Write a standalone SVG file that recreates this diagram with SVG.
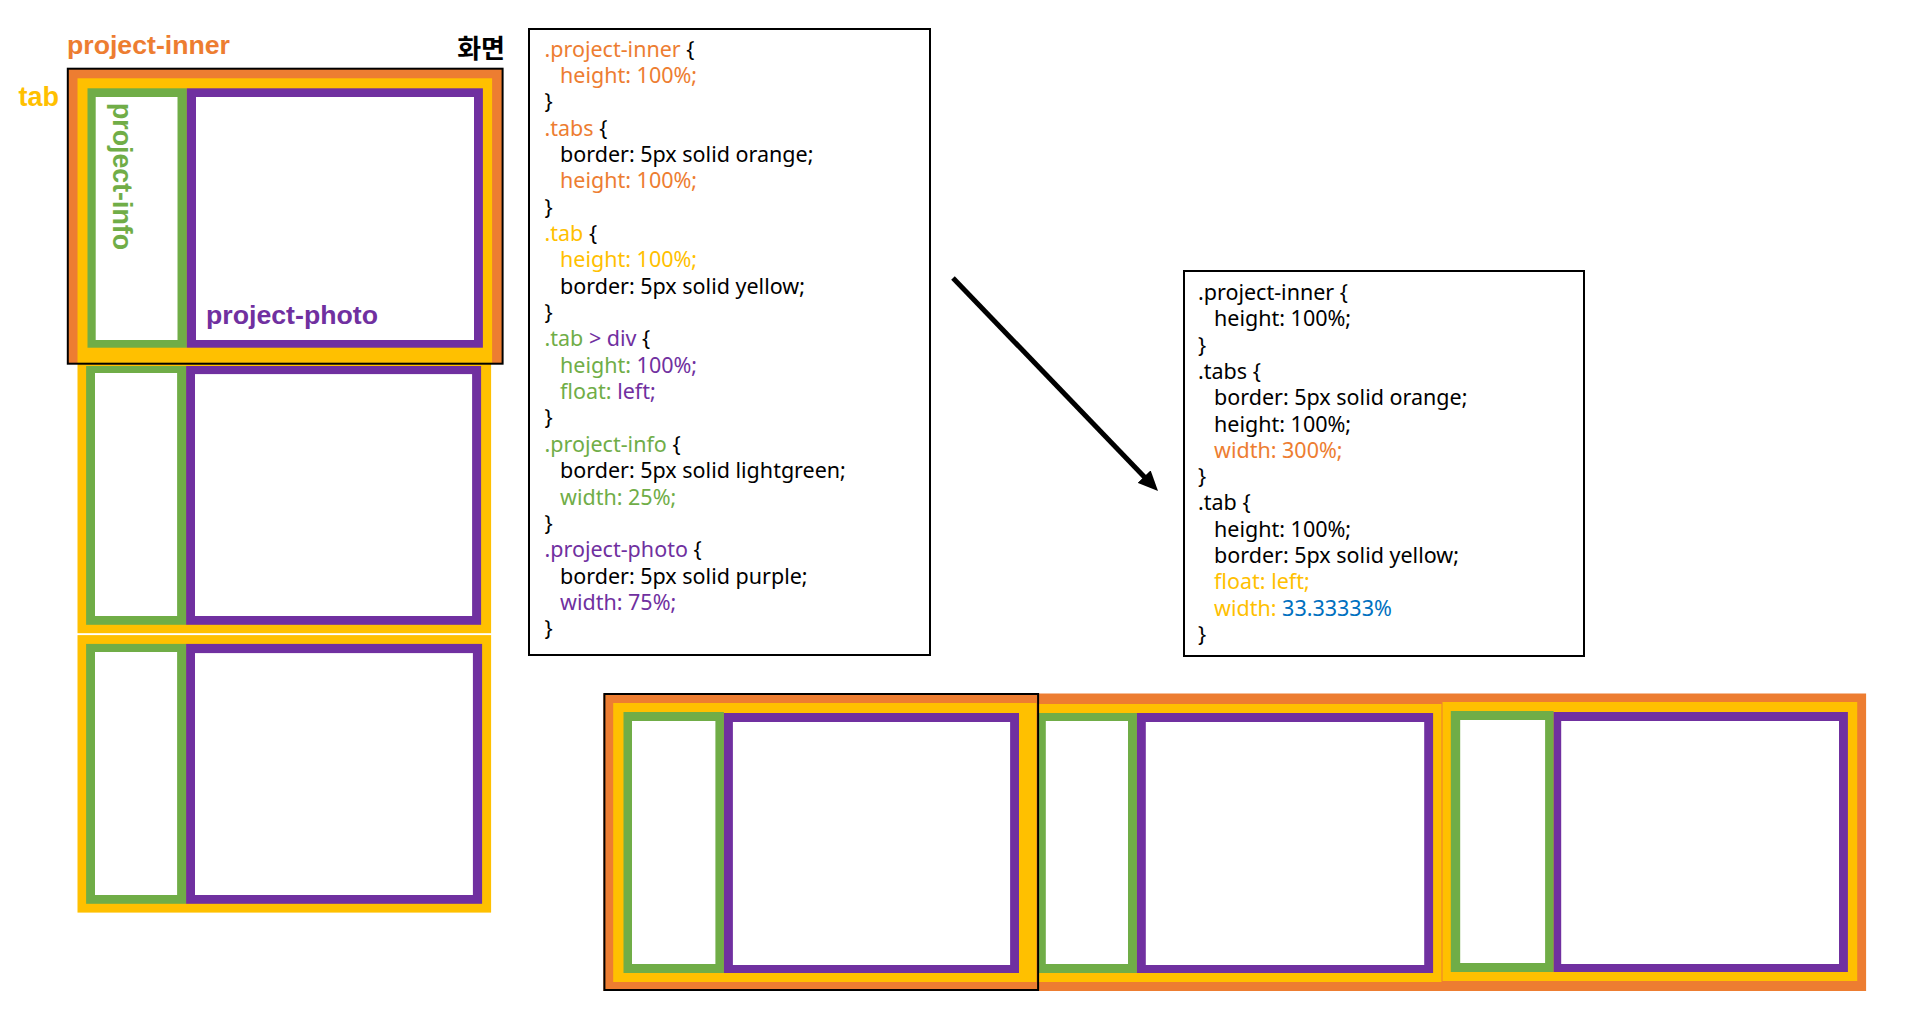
<svg xmlns="http://www.w3.org/2000/svg" width="1913" height="1018" viewBox="0 0 1913 1018">
<style>
.bg{fill:#ffffff}
.or{fill:#ED7D31}
.ye{fill:#FFC000}
.gr{fill:#70AD47}
.pu{fill:#7030A0}
.wh{fill:#ffffff}
.frame{fill:none;stroke:#000000;stroke-width:2}
.box{fill:#ffffff;stroke:#000000;stroke-width:2}
.lbl{font-family:"Liberation Sans","Noto Sans CJK KR",sans-serif;font-weight:bold}
.code{font-family:"Noto Sans","Liberation Sans",sans-serif;font-size:21.5px;fill:#000000}
.o{fill:#ED7D31}
.y{fill:#FFC000}
.g{fill:#70AD47}
.p{fill:#7030A0}
.b{fill:#0070C0}
.k{fill:#000000}
</style>
<defs>
<marker id="ah" viewBox="0 0 20 18" refX="8" refY="9" markerWidth="20" markerHeight="18" markerUnits="userSpaceOnUse" orient="auto">
<path d="M0,0 L20,9 L0,18 Z" fill="#000000"/>
</marker>
</defs>
<rect class="bg" x="0" y="0" width="1913" height="1018"/>

<g id="vertical-layout">
<rect class="or" x="68" y="68" width="434" height="296"/>
<rect class="ye" x="77.5" y="78.3" width="414.6" height="285.7"/>
<rect class="gr" x="87.5" y="88.3" width="99.3" height="259.4"/>
<rect class="wh" x="95.7" y="97" width="81.8" height="243"/>
<rect class="pu" x="186.8" y="88.3" width="296.1" height="259.4"/>
<rect class="wh" x="196" y="97" width="278" height="243"/>

<rect class="ye" x="77.5" y="364" width="413.6" height="269.2"/>
<rect class="gr" x="86.1" y="366" width="100" height="258.8"/>
<rect class="wh" x="95" y="373" width="82.1" height="243"/>
<rect class="pu" x="186.1" y="366" width="295" height="258.8"/>
<rect class="wh" x="195" y="374.1" width="277.1" height="241.9"/>

<rect class="ye" x="77.5" y="635.1" width="413.6" height="277.5"/>
<rect class="gr" x="86.1" y="643.9" width="100" height="259.9"/>
<rect class="wh" x="95" y="652" width="82.1" height="243"/>
<rect class="pu" x="186.1" y="643.9" width="296" height="259.9"/>
<rect class="wh" x="195" y="653.1" width="277.9" height="241.9"/>

<rect class="frame" x="67.8" y="68.7" width="434.8" height="295"/>

<text class="lbl o" x="67" y="53.5" font-size="26" textLength="163" lengthAdjust="spacingAndGlyphs">project-inner</text>
<text class="lbl k" x="505" y="57.5" font-size="26" text-anchor="end" font-family="'Noto Sans CJK KR',sans-serif">화면</text>
<text class="lbl y" x="18.5" y="106" font-size="27">tab</text>
<text class="lbl p" x="206" y="324" font-size="26" textLength="172" lengthAdjust="spacingAndGlyphs">project-photo</text>
<text class="lbl g" x="0" y="0" font-size="27" textLength="147" lengthAdjust="spacingAndGlyphs" transform="translate(113,103) rotate(90)">project-info</text>
</g>

<g id="code-before">
<rect class="box" x="529" y="29" width="401" height="626"/>
<text class="code" x="544.5" y="56.5"><tspan class="o">.project-inner</tspan> {</text>
<text class="code o" x="560" y="82.9">height: 100%;</text>
<text class="code" x="544.5" y="109.2">}</text>
<text class="code" x="544.5" y="135.6"><tspan class="o">.tabs</tspan> {</text>
<text class="code" x="560" y="161.9">border: 5px solid orange;</text>
<text class="code o" x="560" y="188.3">height: 100%;</text>
<text class="code" x="544.5" y="214.6">}</text>
<text class="code" x="544.5" y="241"><tspan class="y">.tab</tspan> {</text>
<text class="code y" x="560" y="267.3">height: 100%;</text>
<text class="code" x="560" y="293.7">border: 5px solid yellow;</text>
<text class="code" x="544.5" y="320">}</text>
<text class="code" x="544.5" y="346.4"><tspan class="g">.tab</tspan> <tspan class="p">&gt; div</tspan> {</text>
<text class="code" x="560" y="372.7"><tspan class="g">height:</tspan> <tspan class="p">100%;</tspan></text>
<text class="code" x="560" y="399.1"><tspan class="g">float:</tspan> <tspan class="p">left;</tspan></text>
<text class="code" x="544.5" y="425.4">}</text>
<text class="code" x="544.5" y="451.8"><tspan class="g">.project-info</tspan> {</text>
<text class="code" x="560" y="478.1">border: 5px solid lightgreen;</text>
<text class="code g" x="560" y="504.5">width: 25%;</text>
<text class="code" x="544.5" y="530.8">}</text>
<text class="code" x="544.5" y="557.2"><tspan class="p">.project-photo</tspan> {</text>
<text class="code" x="560" y="583.5">border: 5px solid purple;</text>
<text class="code p" x="560" y="609.9">width: 75%;</text>
<text class="code" x="544.5" y="636.2">}</text>
</g>

<g id="code-after">
<rect class="box" x="1184" y="271" width="400" height="385"/>
<text class="code" x="1198" y="300">.project-inner {</text>
<text class="code" x="1214" y="326.3">height: 100%;</text>
<text class="code" x="1198" y="352.6">}</text>
<text class="code" x="1198" y="378.9">.tabs {</text>
<text class="code" x="1214" y="405.2">border: 5px solid orange;</text>
<text class="code" x="1214" y="431.5">height: 100%;</text>
<text class="code o" x="1214" y="457.8">width: 300%;</text>
<text class="code" x="1198" y="484.1">}</text>
<text class="code" x="1198" y="510.4">.tab {</text>
<text class="code" x="1214" y="536.7">height: 100%;</text>
<text class="code" x="1214" y="563">border: 5px solid yellow;</text>
<text class="code y" x="1214" y="589.3">float: left;</text>
<text class="code" x="1214" y="615.6"><tspan class="y">width:</tspan> <tspan class="b">33.33333%</tspan></text>
<text class="code" x="1198" y="641.9">}</text>
</g>

<g id="horizontal-layout">
<rect class="or" x="603.4" y="693.5" width="1262.7" height="297.5"/>
<rect class="ye" x="613.2" y="703" width="423.2" height="279"/>
<rect class="ye" x="1037.4" y="704" width="404.1" height="278"/>
<rect class="ye" x="1442.5" y="702" width="414.7" height="279"/>

<rect class="gr" x="623.5" y="712" width="100.4" height="261"/>
<rect class="wh" x="632" y="721" width="83.4" height="243"/>
<rect class="pu" x="723.9" y="713" width="295.1" height="260"/>
<rect class="wh" x="732.9" y="722" width="277.2" height="243"/>

<rect class="gr" x="1038.7" y="713" width="98.2" height="260"/>
<rect class="wh" x="1045.8" y="721" width="82.2" height="243"/>
<rect class="pu" x="1136.9" y="713" width="296.2" height="260"/>
<rect class="wh" x="1145.8" y="722" width="278.4" height="243"/>

<rect class="gr" x="1450.8" y="711" width="102.8" height="261"/>
<rect class="wh" x="1460.2" y="720" width="84.9" height="243"/>
<rect class="pu" x="1553.6" y="712" width="294.3" height="260"/>
<rect class="wh" x="1561.2" y="721" width="277.8" height="243"/>

<rect class="frame" x="604.4" y="694" width="433.7" height="296"/>
</g>

<g id="connectors">
<line x1="953" y1="278" x2="1149.7" y2="482.4" stroke="#000000" stroke-width="5" marker-end="url(#ah)"/>
</g>
</svg>
